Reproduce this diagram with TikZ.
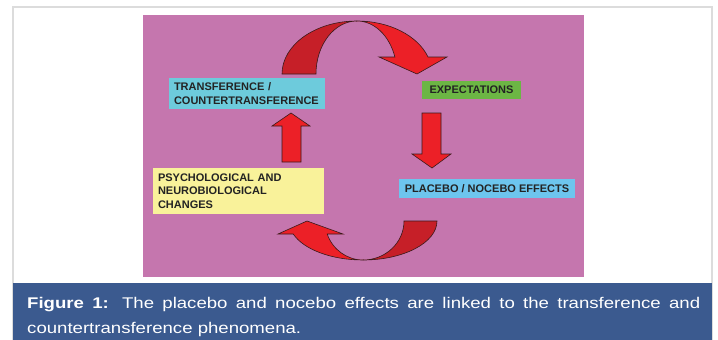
\documentclass[tikz,border=0pt]{standalone}
\usepackage{fontspec}
\setmainfont{Liberation Sans}
\newfontfamily\capfont[FakeStretch=1.2]{Liberation Sans}
\definecolor{pinkbg}{HTML}{C576AE}
\definecolor{capblue}{HTML}{3B5A8F}
\definecolor{framegray}{HTML}{DCDCDC}
\definecolor{cyanbox}{HTML}{6DCBDC}
\definecolor{greenbox}{HTML}{6CB644}
\definecolor{bluebox}{HTML}{6DC5EE}
\definecolor{yellowbox}{HTML}{F9F29A}
\definecolor{redlight}{HTML}{EC2027}
\definecolor{reddark}{HTML}{C61F28}
\definecolor{outl}{HTML}{3A1A1A}
\definecolor{boxtext}{HTML}{232323}
\begin{document}
\begin{tikzpicture}[x=1pt,y=-1pt,
  labelbox/.style={inner xsep=5pt, inner ysep=0pt, font=\fontsize{11}{14}\selectfont\bfseries, text=boxtext},
  blockarrow/.style={fill=redlight, draw=outl, line width=0.6pt, line join=miter},
  backarrow/.style={fill=reddark, draw=outl, line width=0.6pt, line join=miter}]
\useasboundingbox (0,0) rectangle (718,340);
\fill[white] (0,0) rectangle (718,340);
\draw[framegray, line width=1.3pt] (13,341) -- (13,7) -- (712,7) -- (712,341);
\fill[pinkbg] (143,15) rectangle (584,277);
\fill[capblue] (13,283) rectangle (712,341);

% boxes
\node[labelbox, fill=cyanbox, minimum width=156pt, minimum height=31pt, text width=146pt, align=left] (trans) at (247,93.5) {TRANSFERENCE /\\COUNTERTRANSFERENCE};
\node[labelbox, fill=greenbox, minimum width=99pt, minimum height=18pt, align=center] (expect) at (471.5,90) {EXPECTATIONS};
\node[labelbox, fill=bluebox, minimum width=176pt, minimum height=19pt, align=center] (placebo) at (487,188.5) {PLACEBO / NOCEBO EFFECTS};
\node[labelbox, fill=yellowbox, minimum width=171pt, minimum height=46pt, text width=161pt, align=left, font=\fontsize{11}{13.5}\selectfont\bfseries] (psych) at (238.5,191) {PSYCHOLOGICAL AND\\NEUROBIOLOGICAL\\CHANGES};

% straight arrows
\draw[blockarrow] (282,162) -- (282,126) -- (272,126) -- (291,113) -- (310,126) -- (301,126) -- (301,162) -- cycle;
\draw[blockarrow] (422,113) -- (422,154) -- (412,154) -- (432,168) -- (451,154) -- (441,154) -- (441,113) -- cycle;

% top curved arrow
\draw[backarrow] (282,74) arc[start angle=180, end angle=270, x radius=75, y radius=53]
  arc[start angle=270, end angle=180, x radius=41, y radius=53] -- cycle;
\draw[blockarrow] (357,21) arc[start angle=270, end angle=341.3, x radius=75, y radius=53]
  -- (447,57) -- (417,74) -- (379,57) -- (394.9,57)
  arc[start angle=341.3, end angle=270, x radius=40, y radius=53] -- cycle;

% bottom curved arrow
\draw[backarrow] (437,221) arc[start angle=0, end angle=90, x radius=74, y radius=39]
  arc[start angle=90, end angle=0, x radius=41, y radius=39] -- cycle;
\draw[blockarrow] (363,260) arc[start angle=90, end angle=160.5, x radius=74, y radius=39]
  -- (278,234) -- (307,221) -- (343,234) -- (327.2,234)
  arc[start angle=160.5, end angle=90, x radius=38, y radius=39] -- cycle;

% caption
\node[anchor=base west, inner sep=0pt, text width=673pt, align=justify, text=white,
  font=\capfont\fontsize{15.5}{25}\selectfont] (caption) at (27,308)
  {\textbf{Figure 1:} The placebo and nocebo effects are linked to the transference and\linebreak countertransference phenomena.};
\end{tikzpicture}
\end{document}
